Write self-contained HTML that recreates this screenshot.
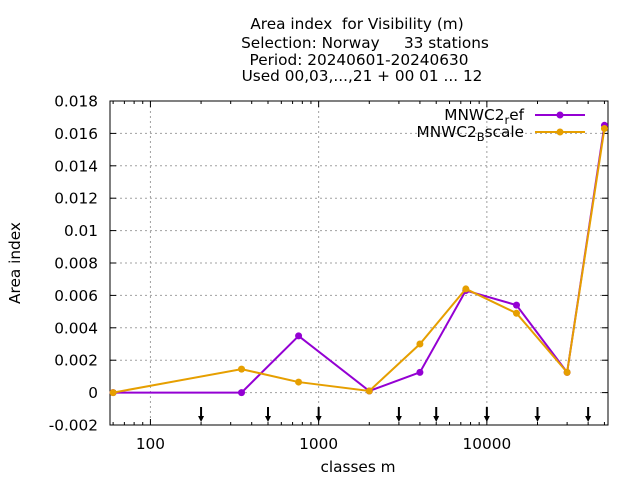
<!DOCTYPE html>
<html><head><meta charset="utf-8"><style>
body{margin:0;background:#fff;}
svg{display:block;font-family:"DejaVu Sans","Liberation Sans",sans-serif;}
text{white-space:pre;}
</style></head><body>
<svg id="chart" width="640" height="480" viewBox="0 0 640 480">
<g font-size="15.3" text-anchor="middle" fill="#000">
<text x="357" y="29" xml:space="preserve">Area index  for Visibility (m)</text>
<text x="365" y="48" xml:space="preserve">Selection: Norway     33 stations</text>
<text x="359" y="65">Period: 20240601-20240630</text>
<text x="362" y="81">Used 00,03,...,21 + 00 01 ... 12</text>
</g>
<g id="grid"></g>
<g id="axes"></g>
<g id="series"></g>
<text x="20" y="263" font-size="15.3" text-anchor="middle" transform="rotate(-90 20 263)">Area index</text>
<text x="358" y="472" font-size="15.3" text-anchor="middle">classes m</text>
<g font-size="15.3">
<g>
<text x="524" y="120" text-anchor="end">MNWC2<tspan font-size="11.5" dy="4">r</tspan><tspan dy="-4">ef</tspan></text>
<line x1="535" y1="115" x2="585" y2="115" stroke="#9400d3" stroke-width="2"/>
<circle cx="560" cy="115" r="3.5" fill="#9400d3"/></g>
<g>
<text x="524" y="137" text-anchor="end">MNWC2<tspan font-size="11.5" dy="4">B</tspan><tspan dy="-4">scale</tspan></text>
<line x1="535" y1="132" x2="585" y2="132" stroke="#e69f00" stroke-width="2"/>
<circle cx="560" cy="132" r="3.5" fill="#e69f00"/></g>
</g>
</svg>
<script>
const classes=[60,348,760,2000,4000,7500,15000,30000,50000];
const refValues=[0,0,0.0035,0.0001,0.00125,0.0063,0.0054,0.00125,0.0165];
const bscaleValues=[0,0.00145,0.00065,0.0001,0.003,0.0064,0.0049,0.00125,0.0163];
const yTicks=[-0.002,0,0.002,0.004,0.006,0.008,0.01,0.012,0.014,0.016,0.018];
const yTickLabels=["-0.002","0","0.002","0.004","0.006","0.008","0.01","0.012","0.014","0.016","0.018"];
const xTicks=[100,1000,10000];
const xTickLabels=["100","1000","10000"];
const arrowClasses=[200,500,1000,3000,5000,10000,20000,40000];

const L=110,R=608,T=101,B=425;
const xMin=57.5,xMax=52500,yMin=-0.002,yMax=0.018;
const NS="http://www.w3.org/2000/svg";
function X(v){return L+(Math.log10(v)-Math.log10(xMin))/(Math.log10(xMax)-Math.log10(xMin))*(R-L);}
function Y(v){return B-(v-yMin)/(yMax-yMin)*(B-T);}
function mk(tag,attrs,parent){const e=document.createElementNS(NS,tag);for(const k in attrs)e.setAttribute(k,attrs[k]);parent.appendChild(e);return e;}
const grid=document.getElementById('grid'),axes=document.getElementById('axes'),series=document.getElementById('series');

yTicks.forEach((t,i)=>{
 const y=Y(t);
 if(i>0&&i<yTicks.length-1){const g=mk('line',{x1:L,x2:R,y1:y,y2:y,stroke:'#a0a0a0','stroke-dasharray':'2,3'},grid);
 
 }
 mk('line',{x1:L,x2:L+6,y1:y,y2:y,stroke:'#000'},axes);
 mk('line',{x1:R,x2:R-6,y1:y,y2:y,stroke:'#000'},axes);
 const tx=mk('text',{x:L-12,y:y+5.5,'font-size':'15.3','text-anchor':'end'},axes);
 tx.textContent=yTickLabels[i];
 
 
});
xTicks.forEach((t,i)=>{
 const x=X(t);
 const g=mk('line',{x1:x,x2:x,y1:T,y2:B,stroke:'#a0a0a0','stroke-dasharray':'2,3'},grid);
 
 
 mk('line',{x1:x,x2:x,y1:B,y2:B-6,stroke:'#000'},axes);
 mk('line',{x1:x,x2:x,y1:T,y2:T+6,stroke:'#000'},axes);
 const tx=mk('text',{x:x,y:B+24,'font-size':'15.3','text-anchor':'middle'},axes);
 tx.textContent=xTickLabels[i];
 
 
});
for(let d=10;d<=10000;d*=10){for(let m=2;m<=9;m++){const v=d*m;if(v<xMin||v>xMax)continue;const x=X(v);
 mk('line',{x1:x,x2:x,y1:B,y2:B-3,stroke:'#000'},axes);mk('line',{x1:x,x2:x,y1:T,y2:T+3,stroke:'#000'},axes);}}
const fr=mk('rect',{x:L,y:T,width:R-L,height:B-T,fill:'none',stroke:'#000'},axes);


arrowClasses.forEach(a=>{const x=X(a);
 const g=mk('g',{},axes);
 
 
 mk('line',{x1:x,x2:x,y1:407,y2:418,stroke:'#000','stroke-width':'2'},g);
 mk('path',{d:`M${x-3},416 L${x+3},416 L${x},422 Z`,fill:'#000'},g);
});
function drawSeries(vals,color,name){
 const g=mk('g',{},series);
 
 
 mk('polyline',{points:classes.map((c,i)=>X(c)+','+Y(vals[i])).join(' '),fill:'none',stroke:color,'stroke-width':'2'},g);
 classes.forEach((c,i)=>{const p=mk('circle',{cx:X(c),cy:Y(vals[i]),r:3.5,fill:color},g);
 
 });
}
drawSeries(refValues,'#9400d3','series-mnwc2-ref');
drawSeries(bscaleValues,'#e69f00','series-mnwc2-bscale');
</script>
</body></html>
